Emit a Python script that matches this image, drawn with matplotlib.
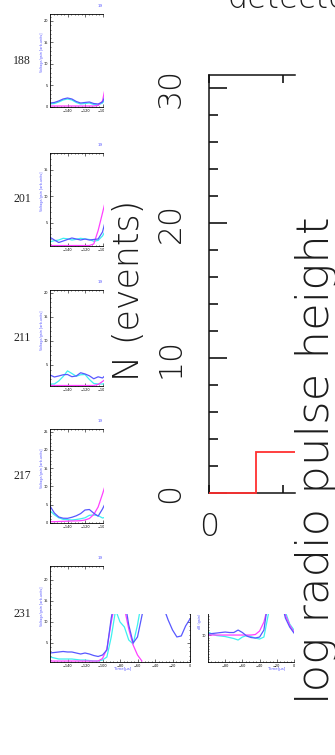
import matplotlib
matplotlib.use("Agg")
import matplotlib.pyplot as plt
from matplotlib.patches import Rectangle
from matplotlib.ticker import MultipleLocator

W, H = 335, 755

# ---- rotated histogram ----
hist_edges = [0.0, 0.64, 1.16]
hist_counts = [0, 3]
n_ticks = [0, 10, 20, 30]
n_labels = ["0", "10", "20", "30"]

# ---- antenna traces (small panels) ----
panel_ids = ["188", "201", "211", "217", "231"]

t_short = [-160, -155, -150, -145, -140, -135, -130, -125, -120, -115, -110, -105, -100, -95]

p188_blue = [0.93, 1.05, 1.40, 1.86, 2.09, 1.86, 1.28, 0.93, 1.05, 1.16, 0.81, 0.70, 1.16, 3.49]
p188_cyan = [0.70, 0.81, 1.16, 1.63, 1.86, 1.63, 1.05, 0.70, 0.81, 0.93, 0.58, 0.47, 0.93, 2.33]
p188_mag = [0.23, 0.23, 0.23, 0.23, 0.23, 0.23, 0.23, 0.23, 0.23, 0.23, 0.23, 0.35, 1.40, 6.28]

p201_blue = [2.30, 1.79, 1.32, 1.60, 1.89, 2.17, 1.98, 1.79, 1.98, 1.79, 1.89, 1.98, 3.30, 6.51]
p201_cyan = [1.47, 1.66, 1.79, 2.11, 2.02, 1.79, 1.92, 2.11, 1.98, 1.89, 1.55, 1.72, 2.55, 4.06]
p201_mag = [0.75, 0.75, 0.75, 0.75, 0.75, 0.75, 0.75, 0.75, 0.75, 0.75, 1.04, 3.57, 6.89, 10.28]

p211_blue = [2.92, 2.50, 2.71, 2.96, 3.02, 2.56, 2.71, 3.38, 3.13, 2.75, 2.13, 2.54, 2.29, 3.13]
p211_cyan = [1.04, 1.04, 1.67, 2.60, 3.77, 3.23, 2.65, 2.96, 3.02, 1.98, 1.15, 1.04, 1.04, 1.25]
p211_mag = [0.73, 0.73, 0.73, 0.73, 0.73, 0.73, 0.73, 0.73, 0.73, 0.73, 0.73, 0.94, 1.56, 2.29]

p217_blue = [4.64, 2.73, 1.64, 1.31, 1.28, 1.56, 1.97, 2.57, 3.55, 3.69, 2.68, 1.86, 3.83, 6.28]
p217_cyan = [3.36, 2.24, 1.42, 1.01, 0.90, 0.82, 0.96, 1.15, 1.42, 2.10, 2.19, 2.02, 1.37, 1.64]
p217_mag = [0.36, 0.36, 0.41, 0.46, 0.49, 0.55, 0.57, 0.63, 0.82, 1.23, 2.32, 4.37, 7.92, 11.75]

t_long = [-160, -155, -150, -145, -140, -135, -130, -125, -120, -115, -110,
          -105, -100, -95, -90, -85, -80, -75, -70, -65, -60, -55,
          -50, -45, -40, -35, -30, -25, -20, -15, -10, -5, 0]
t_mag231 = t_long[:22]

p231_blue = [2.62, 2.74, 2.86, 2.98, 2.86, 2.86, 2.62, 2.38, 2.62, 2.38, 2.02,
             1.79, 2.14, 3.33, 10.95, 16.43, 17.62, 15.71, 9.29, 5.00, 6.43, 11.43,
             16.43, 17.62, 17.62, 16.43, 13.33, 10.48, 8.10, 6.43, 6.67, 9.05, 10.71]
p231_cyan = [1.67, 1.43, 1.19, 1.19, 1.19, 1.19, 1.07, 0.95, 0.95, 0.83, 0.71,
             0.71, 0.95, 1.67, 6.43, 12.86, 10.00, 8.81, 5.71, 4.76, 9.29, 15.24,
             19.0, 20.0, 20.5, 21.0, 21.0, 20.5, 20.0, 19.5, 19.0, 18.5, 18.0]
p231_mag = [0.71, 0.71, 0.71, 0.71, 0.71, 0.71, 0.71, 0.71, 0.71, 0.71, 0.71,
            0.71, 1.31, 3.57, 10.0, 15.24, 17.62, 13.33, 8.33, 4.52, 2.14, 0.71]

# second trace panel next to 231
t_zoom = [-100, -95, -90, -85, -80, -75, -70, -65, -60, -55, -50,
          -45, -40, -35, -30, -25, -20, -15, -10, -5, 0]
pz_blue = [10.37, 10.56, 10.74, 10.93, 11.11, 10.93, 10.93, 11.85, 10.93, 9.63, 9.07,
           8.89, 9.26, 11.85, 22.96, 26.67, 26.67, 22.96, 16.30, 12.96, 10.74]
pz_cyan = [11.11, 10.37, 9.81, 9.63, 9.44, 9.07, 8.70, 8.15, 9.26, 9.81, 9.44,
           8.89, 8.52, 9.26, 17.41, 24.81, 26.67, 24.81, 18.52, 14.07, 11.85]
pz_mag = [10.0, 10.0, 10.0, 10.0, 10.0, 10.0, 10.0, 10.0, 10.0, 10.0, 10.0,
          10.19, 11.48, 14.81, 21.11, 25.93, 26.67, 23.70, 17.41, 13.70, 11.11]

BLUE = "#5858ff"
CYAN = "#3ff0f0"
MAG = "#ff40ff"
BIGFONT = "DejaVu Sans"
INK = "#1c1c1c"


def box(x0, y0, x1, y1):
    # image pixel box -> figure fraction rect
    return [x0 / W, 1 - y1 / H, (x1 - x0) / W, (y1 - y0) / H]


def fx(x):
    return x / W


def fy(y):
    return 1 - y / H


def small_axes(fig, rect, ylim, yticks, xlim, xticks, xminor):
    ax = fig.add_axes(rect)
    ax.set_xlim(*xlim)
    ax.set_ylim(*ylim)
    ax.set_xticks(xticks)
    ax.set_yticks(yticks)
    ax.xaxis.set_minor_locator(MultipleLocator(xminor))
    ax.yaxis.set_minor_locator(MultipleLocator(1))
    ax.tick_params(which="both", direction="in", top=True, right=True,
                   labelsize=2.5, width=0.4, pad=1.5)
    ax.tick_params(which="major", length=2.2)
    ax.tick_params(which="minor", length=1.0)
    for s in ax.spines.values():
        s.set_linewidth(0.6)
    return ax


fig = plt.figure(figsize=(W / 100, H / 100), dpi=100)

panel_boxes = [(50, 14, 190, 107), (50, 153, 190, 246), (50, 290, 190, 386),
               (50, 429, 190, 523), (50, 566, 190, 662)]
panel_ylims = [(0, 21.6), (0.66, 18.2), (0.625, 20.6), (0, 25.7), (0.48, 23.3)]
panel_yticks = [[0, 5, 10, 15, 20], [5, 10, 15], [5, 10, 15, 20],
                [0, 5, 10, 15, 20, 25], [5, 10, 15, 20]]
panel_series = [
    (t_short, p188_blue, p188_cyan, t_short, p188_mag),
    (t_short, p201_blue, p201_cyan, t_short, p201_mag),
    (t_short, p211_blue, p211_cyan, t_short, p211_mag),
    (t_short, p217_blue, p217_cyan, t_short, p217_mag),
    (t_long, p231_blue, p231_cyan, t_mag231, p231_mag),
]

for pid, pb, yl, yt, (t, b, c, tm, m) in zip(panel_ids, panel_boxes, panel_ylims,
                                             panel_yticks, panel_series):
    ax = small_axes(fig, box(*pb), yl, yt, (-160, 0),
                    [-140, -120, -100, -80, -60, -40, -20, 0], 4)
    ax.plot(t, c, color=CYAN, lw=0.9)
    ax.plot(tm, m, color=MAG, lw=0.9)
    ax.plot(t, b, color=BLUE, lw=0.9)
    mid = (pb[1] + pb[3]) / 2
    fig.text(fx(22), fy(mid), pid, ha="center", va="center",
             family="Liberation Serif", fontsize=8.5, color="#222222")
    fig.text(fx(42), fy(mid - 8), "Voltage/gain [arb.units]", rotation=90,
             ha="center", va="center", fontsize=2.4, color=BLUE)
    fig.text(fx(100), fy(pb[1] - 8), "19", ha="center", va="center",
             fontsize=3, color=BLUE)

fig.text(fx(123), fy(669), "Time[\u03bcs]", ha="center", va="center",
         fontsize=2.8, color=BLUE)

# right-hand trace panel
axz = small_axes(fig, box(208, 566, 294, 662), (0, 35.6), [10, 20, 30],
                 (-100, 0), [-80, -60, -40, -20, 0], 4)
axz.spines["right"].set_visible(False)
axz.tick_params(which="both", right=False)
axz.plot(t_zoom, pz_cyan, color=CYAN, lw=0.9)
axz.plot(t_zoom, pz_mag, color=MAG, lw=0.9)
axz.plot(t_zoom, pz_blue, color=BLUE, lw=0.9)
fig.text(fx(200), fy(621), "dB (gain)", rotation=90, ha="center", va="center",
         fontsize=2.4, color=BLUE)
fig.text(fx(277), fy(669), "Time[\u03bcs]", ha="center", va="center",
         fontsize=2.8, color=BLUE)

# white page area of the rotated histogram figure
fig.add_artist(Rectangle((fx(104), fy(614)), 1 - fx(104), 1 - fy(614),
                         transform=fig.transFigure, facecolor="white",
                         edgecolor="none", zorder=5))

# ---- histogram ----
ax = fig.add_axes(box(209, 75, 295, 493), zorder=10)
ax.patch.set_alpha(0)
ax.stairs(hist_counts, hist_edges, baseline=None, color="#ff3030", lw=1.3,
          clip_on=False, zorder=3)
ax.set_xlim(0, 1.16)
ax.set_ylim(0, 30.96)
ax.spines["right"].set_visible(False)
for s in ax.spines.values():
    s.set_linewidth(1.1)
    s.set_color("#111111")
ax.set_yticks(n_ticks)
ax.set_yticklabels(n_labels, family=BIGFONT, fontweight="light", fontsize=22.7,
                   color=INK, rotation=90, va="center")
ax.yaxis.set_minor_locator(MultipleLocator(2))
ax.tick_params(axis="y", which="major", direction="in", length=13, width=1.1,
               pad=17, right=False)
ax.tick_params(axis="y", which="minor", direction="in", length=6.5, width=1.1,
               right=False)
ax.set_xticks([0, 1.0])
ax.set_xticklabels(["0", ""], family=BIGFONT, fontweight="light",
                   fontsize=22.7, color=INK)
ax.tick_params(axis="x", direction="in", length=5.8, width=1.1, top=True,
               pad=14)
ax.set_ylabel("N (events)", family=BIGFONT, fontweight="light", fontsize=25,
              color=INK, va="baseline")
ax.yaxis.set_label_coords((139 - 209) / 86, (493 - 290) / 418)

fig.text(fx(329), fy(460), "log radio pulse height", rotation=90,
         rotation_mode="anchor", ha="center", va="baseline", family=BIGFONT,
         fontweight="light", fontsize=32.4, color=INK, zorder=11)
fig.text(fx(228), fy(8), "detected", ha="left", va="baseline",
         family=BIGFONT, fontweight="light", fontsize=22.7, color=INK,
         zorder=11)

fig.savefig("out.png", dpi=100, facecolor="white")
